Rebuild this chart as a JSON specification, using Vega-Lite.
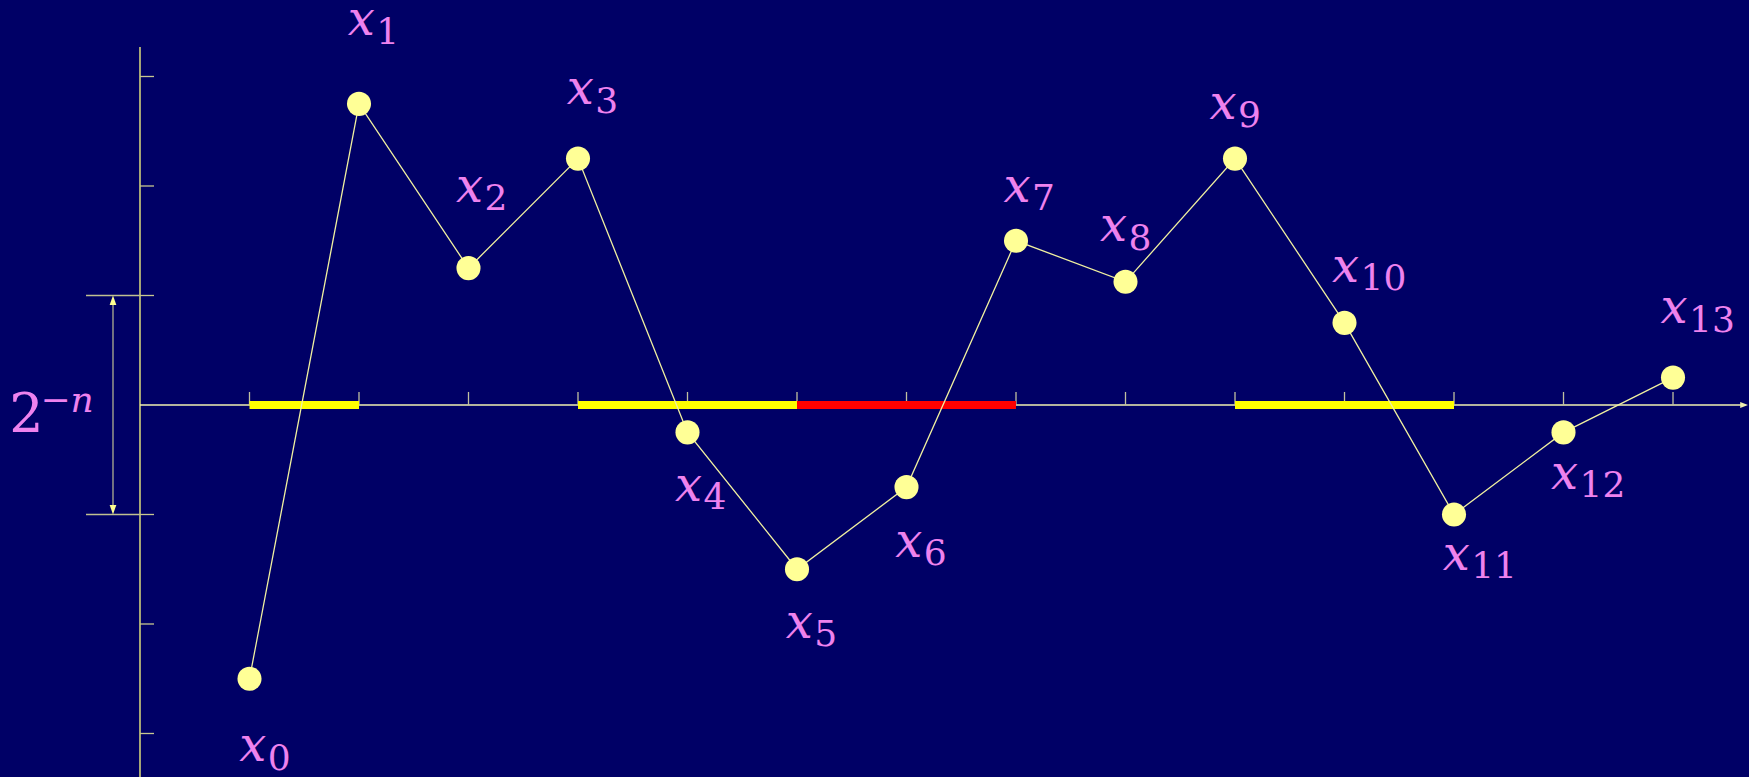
{
  "$schema": "https://vega.github.io/schema/vega-lite/v6.json",
  "width": 1749,
  "height": 777,
  "autosize": {"type": "none"},
  "padding": 0,
  "background": "#000066",
  "config": {"view": {"stroke": null}},
  "datasets": {
    "pts": [
      {"n": 0, "t": 1, "v": -2.5},
      {"n": 1, "t": 2, "v": 2.75},
      {"n": 2, "t": 3, "v": 1.25},
      {"n": 3, "t": 4, "v": 2.25},
      {"n": 4, "t": 5, "v": -0.25},
      {"n": 5, "t": 6, "v": -1.5},
      {"n": 6, "t": 7, "v": -0.75},
      {"n": 7, "t": 8, "v": 1.5},
      {"n": 8, "t": 9, "v": 1.125},
      {"n": 9, "t": 10, "v": 2.25},
      {"n": 10, "t": 11, "v": 0.75},
      {"n": 11, "t": 12, "v": -1},
      {"n": 12, "t": 13, "v": -0.25},
      {"n": 13, "t": 14, "v": 0.25}
    ],
    "labels": [
      {"base": "x", "sub": "0", "lx": 1.03, "ly": -3.14},
      {"base": "x", "sub": "1", "lx": 2.02, "ly": 3.49},
      {"base": "x", "sub": "2", "lx": 3.01, "ly": 1.97},
      {"base": "x", "sub": "3", "lx": 4.02, "ly": 2.86},
      {"base": "x", "sub": "4", "lx": 5.01, "ly": -0.76},
      {"base": "x", "sub": "5", "lx": 6.02, "ly": -2.01},
      {"base": "x", "sub": "6", "lx": 7.02, "ly": -1.27},
      {"base": "x", "sub": "7", "lx": 8.01, "ly": 1.97},
      {"base": "x", "sub": "8", "lx": 8.89, "ly": 1.61},
      {"base": "x", "sub": "9", "lx": 9.89, "ly": 2.73},
      {"base": "x", "sub": "10", "lx": 11.01, "ly": 1.24},
      {"base": "x", "sub": "11", "lx": 12.02, "ly": -1.39},
      {"base": "x", "sub": "12", "lx": 13.01, "ly": -0.65},
      {"base": "x", "sub": "13", "lx": 14.01, "ly": 0.86}
    ],
    "segments": [
      {"from": 1, "to": 2, "kind": "yellow"},
      {"from": 4, "to": 6, "kind": "yellow"},
      {"from": 6, "to": 8, "kind": "red"},
      {"from": 10, "to": 12, "kind": "yellow"}
    ],
    "xticks": [
      {"t": 1}, {"t": 2}, {"t": 3}, {"t": 4}, {"t": 5}, {"t": 6}, {"t": 7},
      {"t": 8}, {"t": 9}, {"t": 10}, {"t": 11}, {"t": 12}, {"t": 13}, {"t": 14}
    ],
    "yticks": [{"v": 3}, {"v": 2}, {"v": 1}, {"v": -1}, {"v": -2}, {"v": -3}],
    "dimlines": [{"v": 1}, {"v": -1}],
    "dimheads": [{"v": 1, "dir": "up"}, {"v": -1, "dir": "down"}],
    "dimlabel": [{"base": "2", "sup": "−n", "u": -1.037, "v": 0}]
  },
  "layer": [
    {
      "data": {"values": [{}]},
      "mark": {"type": "rule", "color": "#ffff80", "strokeWidth": 1.3},
      "encoding": {
        "x": {"datum": 0, "type": "quantitative", "scale": {"domain": [-1.2785, 14.694], "nice": false, "zero": false}, "axis": null},
        "y": {"datum": -3.4, "type": "quantitative", "scale": {"domain": [-3.3973, 3.6986], "nice": false, "zero": false}, "axis": null},
        "y2": {"datum": 3.27}
      }
    },
    {
      "data": {"name": "yticks"},
      "mark": {"type": "rule", "color": "#c8c890", "strokeWidth": 1.3},
      "encoding": {
        "x": {"datum": 0, "type": "quantitative"},
        "x2": {"datum": 0.128},
        "y": {"field": "v", "type": "quantitative"}
      }
    },
    {
      "data": {"name": "dimlines"},
      "mark": {"type": "rule", "color": "#c0c090", "strokeWidth": 1.3},
      "encoding": {
        "x": {"datum": -0.493, "type": "quantitative"},
        "x2": {"datum": 0},
        "y": {"field": "v", "type": "quantitative"}
      }
    },
    {
      "data": {"values": [{}]},
      "mark": {"type": "rule", "color": "#b0b090", "strokeWidth": 1.3},
      "encoding": {
        "x": {"datum": -0.2466, "type": "quantitative"},
        "y": {"datum": -0.95, "type": "quantitative"},
        "y2": {"datum": 0.95}
      }
    },
    {
      "data": {"name": "dimheads"},
      "mark": {"type": "point", "filled": true, "color": "#ffff90", "opacity": 1, "size": 256},
      "encoding": {
        "x": {"datum": -0.2466, "type": "quantitative"},
        "y": {"field": "v", "type": "quantitative"},
        "shape": {"field": "dir", "type": "nominal", "scale": {"domain": ["up", "down"], "range": ["M0,0L-0.42,1.2L0.42,1.2Z", "M0,0L-0.42,-1.2L0.42,-1.2Z"]}, "legend": null}
      }
    },
    {
      "data": {"values": [{}]},
      "mark": {"type": "rule", "color": "#f0f0b0", "strokeWidth": 1.3},
      "encoding": {
        "x": {"datum": 0, "type": "quantitative"},
        "x2": {"datum": 14.66},
        "y": {"datum": 0, "type": "quantitative"}
      }
    },
    {
      "data": {"values": [{}]},
      "mark": {"type": "point", "filled": true, "color": "#f0f0b0", "opacity": 1, "size": 144, "shape": "M0,0L-1.3,-0.5L-1.3,0.5Z"},
      "encoding": {
        "x": {"datum": 14.685, "type": "quantitative"},
        "y": {"datum": 0, "type": "quantitative"}
      }
    },
    {
      "data": {"name": "xticks"},
      "mark": {"type": "rule", "color": "#c0c0a0", "strokeWidth": 1.3},
      "encoding": {
        "x": {"field": "t", "type": "quantitative"},
        "y": {"datum": 0, "type": "quantitative"},
        "y2": {"datum": 0.119}
      }
    },
    {
      "data": {"name": "segments"},
      "mark": {"type": "rule", "strokeWidth": 8, "strokeCap": "butt"},
      "encoding": {
        "x": {"field": "from", "type": "quantitative"},
        "x2": {"field": "to"},
        "y": {"datum": 0, "type": "quantitative"},
        "color": {"field": "kind", "type": "nominal", "scale": {"domain": ["yellow", "red"], "range": ["#ffff00", "#ff0000"]}, "legend": null}
      }
    },
    {
      "data": {"name": "pts"},
      "mark": {"type": "line", "color": "#f0f0a0", "strokeWidth": 1.3},
      "encoding": {
        "x": {"field": "t", "type": "quantitative"},
        "y": {"field": "v", "type": "quantitative"},
        "order": {"field": "n", "type": "quantitative"}
      }
    },
    {
      "data": {"name": "pts"},
      "mark": {"type": "circle", "color": "#ffff96", "opacity": 1, "size": 580},
      "encoding": {
        "x": {"field": "t", "type": "quantitative"},
        "y": {"field": "v", "type": "quantitative"}
      }
    },
    {
      "data": {"name": "labels"},
      "mark": {"type": "text", "font": "DejaVu Serif", "fontStyle": "italic", "fontSize": 48, "color": "#ee82ee", "align": "center", "baseline": "alphabetic", "dy": 12.5},
      "encoding": {
        "x": {"field": "lx", "type": "quantitative"},
        "y": {"field": "ly", "type": "quantitative"},
        "text": {"field": "base"}
      }
    },
    {
      "data": {"name": "labels"},
      "mark": {"type": "text", "font": "DejaVu Serif", "fontSize": 36, "color": "#ee82ee", "align": "left", "baseline": "alphabetic", "dx": 15, "dy": 21},
      "encoding": {
        "x": {"field": "lx", "type": "quantitative"},
        "y": {"field": "ly", "type": "quantitative"},
        "text": {"field": "sub"}
      }
    },
    {
      "data": {"name": "dimlabel"},
      "mark": {"type": "text", "font": "DejaVu Serif", "fontSize": 54, "color": "#ee82ee", "align": "center", "baseline": "alphabetic", "dy": 27},
      "encoding": {
        "x": {"field": "u", "type": "quantitative"},
        "y": {"field": "v", "type": "quantitative"},
        "text": {"field": "base"}
      }
    },
    {
      "data": {"name": "dimlabel"},
      "mark": {"type": "text", "font": "DejaVu Serif", "fontStyle": "italic", "fontSize": 36, "color": "#ee82ee", "align": "left", "baseline": "alphabetic", "dx": 14, "dy": 7},
      "encoding": {
        "x": {"field": "u", "type": "quantitative"},
        "y": {"field": "v", "type": "quantitative"},
        "text": {"field": "sup"}
      }
    }
  ]
}
